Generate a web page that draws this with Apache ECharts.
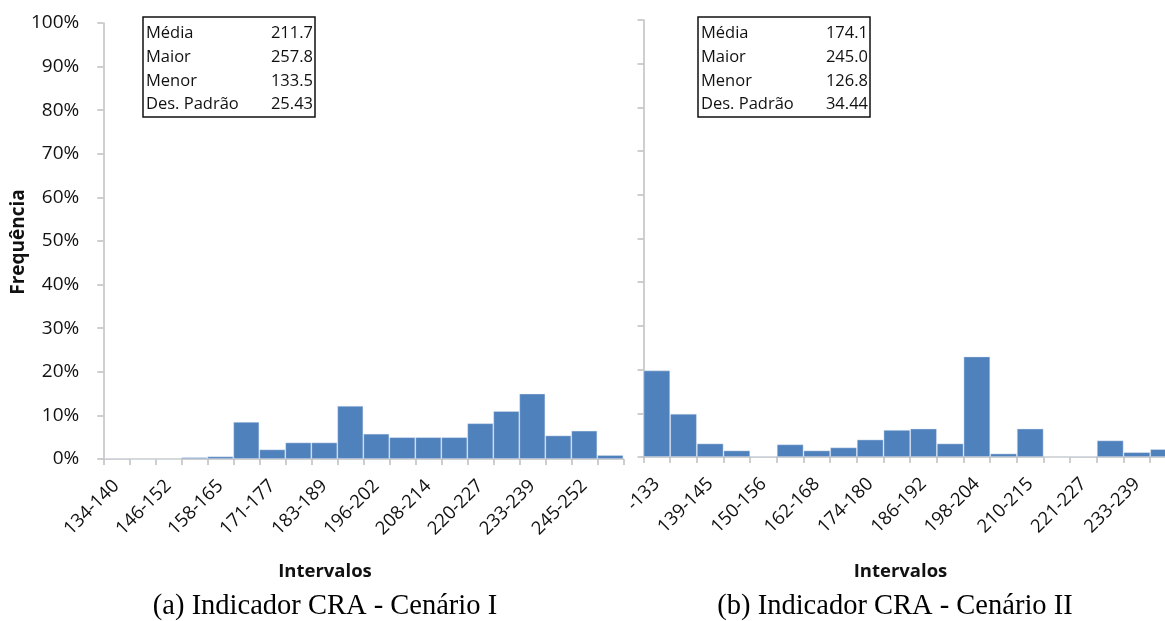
<!DOCTYPE html>
<html>
<head>
<meta charset="utf-8">
<script src="https://cdn.jsdelivr.net/npm/echarts@6/dist/echarts.min.js"></script>
<style>
  html, body { margin: 0; padding: 0; background: #fff; overflow: hidden; }
  #wrap { position: relative; width: 1165px; height: 621px; overflow: hidden; background: #fff; }
  #left { position: absolute; left: 0; top: 0; width: 630px; height: 621px; }
  #right { position: absolute; left: 630px; top: 0; width: 560px; height: 621px; }
</style>
</head>
<body>
<div id="wrap">
  <div id="left"></div>
  <div id="right"></div>
</div>
<script>
// Cenário I: class intervals and relative frequency (%)
const catsI = ['134-140','140-146','146-152','152-158','158-165','165-171','171-177','177-183','183-189','189-196',
               '196-202','202-208','208-214','214-220','220-227','227-233','233-239','239-245','245-252','252-258'];
const freqI = [0.2, 0, 0, 0.4, 0.6, 8.5, 2.2, 3.8, 3.8, 12.2,
               5.8, 5.0, 5.0, 5.0, 8.2, 11.0, 15.0, 5.4, 6.5, 0.9];

// Cenário II: class intervals and relative frequency (%)
const catsII = ['127-133','133-139','139-145','145-150','150-156','156-162','162-168','168-174','174-180','180-186',
                '186-192','192-198','198-204','204-210','210-215','215-221','221-227','227-233','233-239','239-245'];
const freqII = [19.8, 9.9, 3.1, 1.5, 0.2, 2.9, 1.5, 2.2, 4.0, 6.2,
                6.5, 3.1, 23.0, 0.8, 6.5, 0, 0.2, 3.8, 1.1, 1.8];

// Summary statistics shown in the boxes
const statNames = ['Média', 'Maior', 'Menor', 'Des. Padrão'];
const statsI = ['211.7', '257.8', '133.5', '25.43'];
const statsII = ['174.1', '245.0', '126.8', '34.44'];

const xTitle = 'Intervalos';
const yTitle = 'Frequência';
const captionI = '(a) Indicador CRA - Cenário I';
const captionII = '(b) Indicador CRA - Cenário II';

const AXIS = '#bfbfbf';
const BAR = '#4f81bd';
const FONT = "'Open Sans', 'Noto Sans', sans-serif";

function statBox(x, y, w, h, values) {
  const els = [{
    type: 'rect',
    shape: { x: x, y: y, width: w, height: h },
    style: { fill: '#fff', stroke: '#111', lineWidth: 1.5 },
    z: 10
  }];
  const rowH = 23.7;
  statNames.forEach((name, i) => {
    const cy = y + 16.5 + i * rowH;
    els.push({
      type: 'text', z: 11,
      style: { text: name, x: x + 3, y: cy, fill: '#111', font: '16.5px ' + FONT,
               textAlign: 'left', textVerticalAlign: 'middle' }
    });
    els.push({
      type: 'text', z: 11,
      style: { text: values[i], x: x + w - 2, y: cy, fill: '#111', font: '16.5px ' + FONT,
               textAlign: 'right', textVerticalAlign: 'middle' }
    });
  });
  return els;
}

function titles(xTitleX, caption, captionX) {
  return [{
    type: 'text',
    style: { text: xTitle, x: xTitleX, y: 572, fill: '#111',
             font: 'bold 18.5px ' + FONT, textAlign: 'center', textVerticalAlign: 'middle' }
  }, {
    type: 'text',
    style: { text: caption, x: captionX, y: 607, fill: '#000',
             font: "28.5px 'Liberation Serif', 'Times New Roman', serif",
             textAlign: 'center', textVerticalAlign: 'middle' }
  }];
}

// vertical axis title, drawn upright-rotated beside the percentage labels
const yTitleGraphic = [{
  type: 'text',
  x: 19, y: 242, rotation: Math.PI / 2,
  style: { text: yTitle, x: 0, y: 0, fill: '#111', font: 'bold 19px ' + FONT,
           textAlign: 'center', textVerticalAlign: 'middle' }
}];

function buildOption(cats, freq, grid, showYLabels, graphics) {
  return {
    animation: false,
    grid: Object.assign({ containLabel: false, outerBoundsMode: 'none' }, grid),
    xAxis: {
      type: 'category',
      data: cats,
      boundaryGap: true,
      axisLine: { show: true, lineStyle: { color: AXIS, width: 1.5 } },
      axisTick: { show: true, interval: 0, length: 6, alignWithLabel: false, lineStyle: { color: AXIS, width: 1.5 } },
      axisLabel: { interval: 1, rotate: 45, margin: 24, fontFamily: FONT, fontSize: 18.5, color: '#111' },
      splitLine: { show: false }
    },
    yAxis: {
      type: 'value',
      min: 0, max: 100, interval: 10,
      axisLine: { show: true, lineStyle: { color: AXIS, width: 1.5 } },
      axisTick: { show: true, length: 6, lineStyle: { color: AXIS, width: 1.5 } },
      axisLabel: { show: showYLabels, formatter: '{value}%', margin: 24, fontFamily: FONT, fontSize: 19, color: '#111' },
      splitLine: { show: false }
    },
    series: [{
      type: 'bar',
      data: freq,
      barCategoryGap: '0%',
      itemStyle: { color: BAR, borderColor: 'rgba(220,230,242,0.55)', borderWidth: 0.8 }
    }],
    graphic: graphics
  };
}

const chartI = echarts.init(document.getElementById('left'), null, { renderer: 'canvas' });
chartI.setOption(buildOption(catsI, freqI,
  { left: 103.3, right: 6.7, top: 23, bottom: 162 },
  true, statBox(143, 17, 172, 100, statsI).concat(titles(325, captionI, 325), yTitleGraphic)));

const chartII = echarts.init(document.getElementById('right'), null, { renderer: 'canvas' });
chartII.setOption(buildOption(catsII, freqII,
  { left: 13.5, right: 13.1, top: 20, bottom: 164 },
  false, statBox(68, 17, 172, 100, statsII).concat(titles(270.5, captionII, 265))));
</script>
</body>
</html>
